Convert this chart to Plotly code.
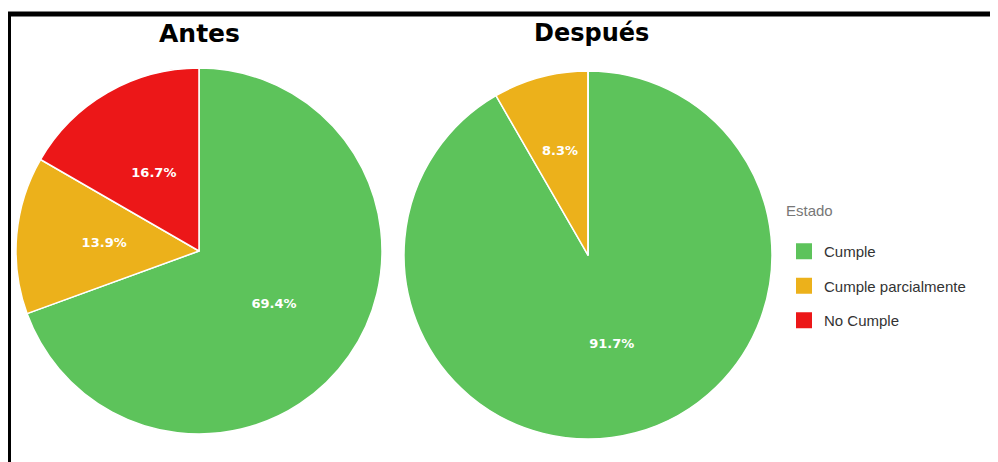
import plotly.graph_objects as go

labels = ["Cumple", "Cumple parcialmente", "No Cumple"]
antes_values = [25, 5, 6]
despues_values = [33, 3, 0]
colors = ["#5DC35B", "#ECB11B", "#EC1718"]
titles = ["Antes", "Después"]
legend_title = "Estado"

W, H = 998, 462
OFF = 8  # page body margin offset

def px_x(p):
    return (p - OFF) / W

def px_y(p):
    return 1 - (p - OFF) / H

def domain(cx, cy, r):
    return dict(x=[px_x(cx - r), px_x(cx + r)], y=[px_y(cy + r), px_y(cy - r)])

LBL = "%{percent:.1%}"
textfont = dict(color="white", size=13, family="DejaVu Sans", weight="bold")

fig = go.Figure()

def add_pie(values, name, cx, cy, r):
    # coloured pie, labels of the large slice
    fig.add_trace(go.Pie(
        values=values, labels=labels, name=name, sort=False, direction="clockwise", rotation=0,
        showlegend=False, domain=domain(cx, cy, r),
        marker=dict(colors=colors, line=dict(color="white", width=1.5)),
        texttemplate=[LBL, "", ""], textposition="inside", insidetextorientation="horizontal",
        textfont=textfont, hoverinfo="label+percent",
    ))
    # transparent pie used only to place the small-slice labels nearer the centre
    fig.add_trace(go.Pie(
        values=values, labels=labels, name=name, sort=False, direction="clockwise", rotation=0,
        showlegend=False, domain=domain(cx, cy, r * 0.74),
        marker=dict(colors=["rgba(0,0,0,0)"] * len(labels), line=dict(width=0)),
        texttemplate=["", LBL, LBL], textposition="inside", insidetextorientation="horizontal",
        textfont=textfont, hoverinfo="skip",
    ))

add_pie(antes_values, titles[0], 199, 251, 183)
add_pie(despues_values, titles[1], 588, 255, 184)

# legend entries (one per category)
for i, (lab, col) in enumerate(zip(labels, colors)):
    fig.add_trace(go.Scatter(
        x=[None], y=[None], mode="markers", name=lab,
        marker=dict(symbol="square", size=17, color=col),
        legendgroup="g%d" % i, showlegend=True, hoverinfo="skip",
    ))

fig.update_layout(
    width=W, height=H,
    margin=dict(l=0, r=0, t=0, b=0),
    paper_bgcolor="white",
    plot_bgcolor="white",
    xaxis=dict(visible=False),
    yaxis=dict(visible=False),
    showlegend=True,
    legend=dict(
        title=dict(text=legend_title + "<br> ", font=dict(color="#777777", size=15, family="Liberation Sans")),
        font=dict(color="#333333", size=15, family="Liberation Sans"),
        x=px_x(784), y=px_y(196), xanchor="left", yanchor="top",
        tracegroupgap=12,
        bgcolor="rgba(0,0,0,0)",
    ),
    annotations=[
        dict(text="<b>" + titles[0] + "</b>", x=px_x(199), y=px_y(33), xref="paper", yref="paper",
             xanchor="center", yanchor="middle", showarrow=False,
             font=dict(size=25, color="black", family="DejaVu Sans")),
        dict(text="<b>" + titles[1] + "</b>", x=px_x(591), y=px_y(33), xref="paper", yref="paper",
             xanchor="center", yanchor="middle", showarrow=False,
             font=dict(size=24, color="black", family="DejaVu Sans")),
    ],
    shapes=[
        dict(type="line", xref="paper", yref="paper", x0=px_x(6), x1=1, y0=px_y(14), y1=px_y(14),
             line=dict(color="black", width=5)),
        dict(type="line", xref="paper", yref="paper", x0=px_x(8.5), x1=px_x(8.5), y0=px_y(12), y1=0,
             line=dict(color="black", width=5)),
    ],
)

fig.write_html("out.html")
